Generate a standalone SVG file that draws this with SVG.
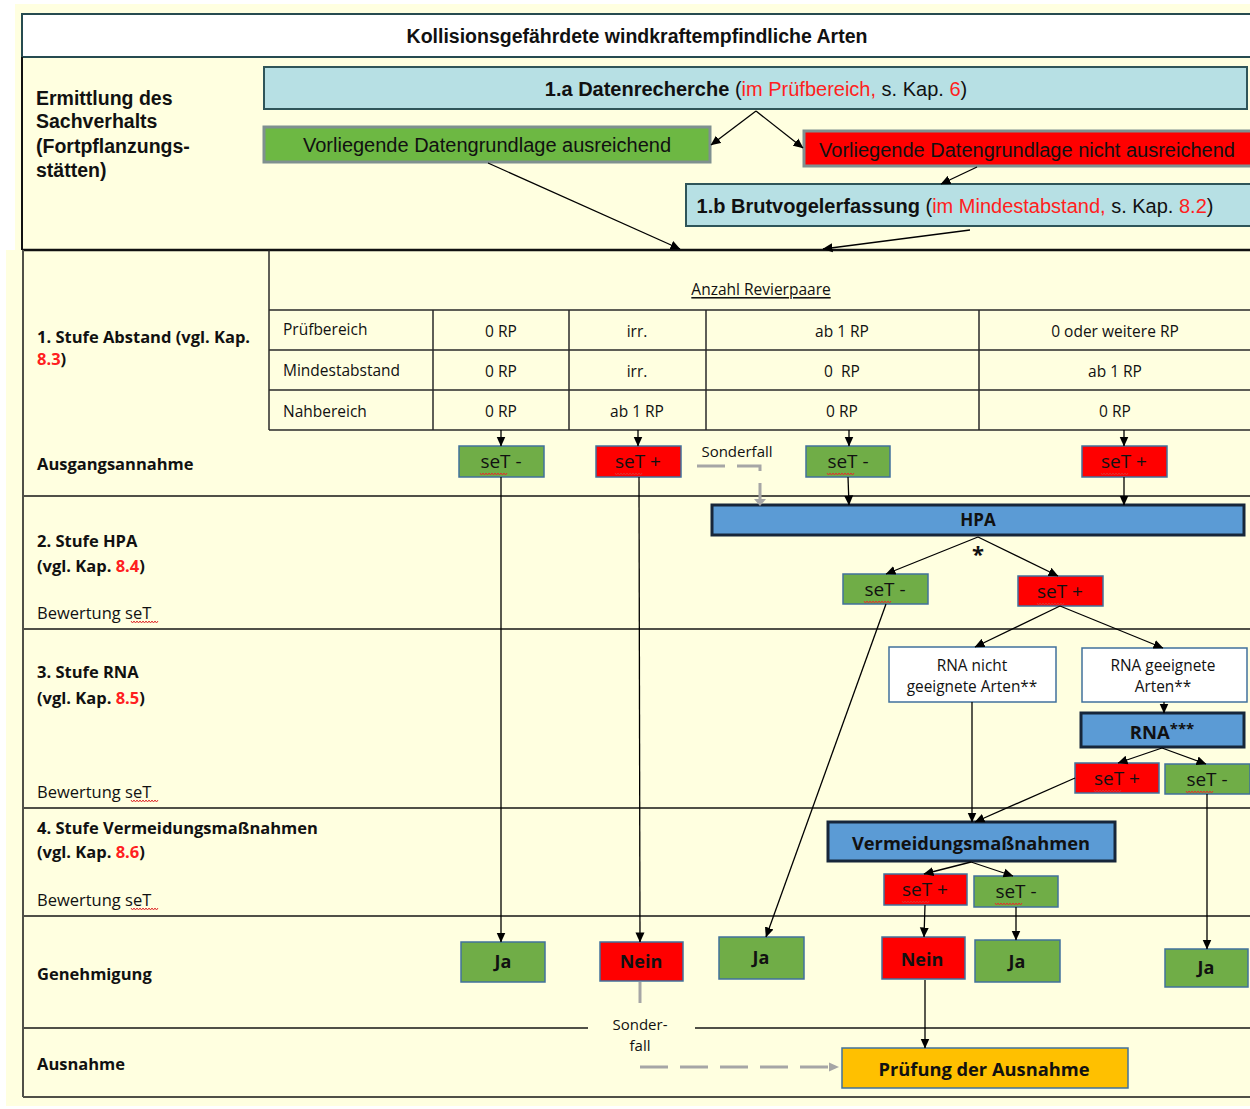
<svg xmlns="http://www.w3.org/2000/svg" width="1250" height="1109" viewBox="0 0 1250 1109">
  <defs>
    <marker id="ah" viewBox="0 0 10 10" markerUnits="userSpaceOnUse" markerWidth="10" markerHeight="10" refX="9.5" refY="5" orient="auto">
      <path d="M0,0.5 L10,5 L0,9.5 z" fill="#000"/>
    </marker>
    <marker id="ahg" viewBox="0 0 10 10" markerUnits="userSpaceOnUse" markerWidth="10" markerHeight="10" refX="9" refY="5" orient="auto">
      <path d="M0,0.5 L10,5 L0,9.5 z" fill="#A6A6A6"/>
    </marker>
    <!-- red spelling squiggle under "seT" -->
    <path id="sq" d="M0,0 l1.5,2 l1.5,-2 l1.5,2 l1.5,-2 l1.5,2 l1.5,-2 l1.5,2 l1.5,-2 l1.5,2 l1.5,-2 l1.5,2 l1.5,-2 l1.5,2 l1.5,-2 l1.5,2 l1.5,-2 l1.5,2 l1.5,-2" fill="none" stroke="#E03030" stroke-width="1"/>
  </defs>
  <style>
    .ar{font-family:"Liberation Sans",Arial,sans-serif}
    .ca{font-family:"Open Sans",Lato,sans-serif}
    .b{font-weight:bold}
    .red{fill:#FF2020}
    .mid{text-anchor:middle}
    text{dominant-baseline:central;fill:#111}
    .topbox{fill:#B7E0E4;stroke:#2F5559;stroke-width:2}
    .gbox{fill:#6DB843;stroke:#7F9090;stroke-width:3}
    .rbox{fill:#FF0000;stroke:#7F9090;stroke-width:3}
    .g{fill:#70AD47;stroke:#41719C;stroke-width:1.5}
    .r{fill:#FF0000;stroke:#41719C;stroke-width:1.5}
    .w{fill:#FFFFFF;stroke:#41719C;stroke-width:1.5}
    .blue{fill:#5B9BD5;stroke:#17263A;stroke-width:3}
    .gold{fill:#FFC000;stroke:#41719C;stroke-width:1.5}
    .sep{stroke:#505048;stroke-width:2;fill:none}
    .tl{stroke:#2a2a2a;stroke-width:1.5;fill:none}
    .lbl{font-size:16.5px}
    .cell{font-size:15.5px}
    .set{font-size:19px}
    .yn{font-size:18px;font-weight:bold}
    .cn{stroke:#000;stroke-width:1.3;fill:none;marker-end:url(#ah)}
    .dash{stroke:#A6A6A6;stroke-width:3;fill:none;stroke-dasharray:28 12}
  </style>

  <!-- page background -->
  <rect x="0" y="0" width="1250" height="1109" fill="#FFFFFF"/>
  <rect x="15" y="4" width="1235" height="248" fill="#FFFFE0"/>
  <rect x="6" y="250" width="1244" height="856" fill="#FFFFE0"/>

  <!-- frame and grid -->
  <g id="grid">
    <rect x="22" y="14" width="1240" height="43" fill="#FFFFFF" stroke="#264B50" stroke-width="2"/>
    <line x1="22" y1="57" x2="22" y2="250" stroke="#111" stroke-width="2"/>
    <line x1="22" y1="250" x2="1250" y2="250" stroke="#111" stroke-width="2.5"/>
    <line x1="23" y1="250" x2="23" y2="1097" class="sep"/>
    <line x1="23" y1="496" x2="1250" y2="496" class="sep"/>
    <line x1="23" y1="629" x2="1250" y2="629" class="sep"/>
    <line x1="23" y1="808" x2="1250" y2="808" class="sep"/>
    <line x1="23" y1="916" x2="1250" y2="916" class="sep"/>
    <line x1="23" y1="1028" x2="588" y2="1028" class="sep"/>
    <line x1="695" y1="1028" x2="1250" y2="1028" class="sep"/>
    <line x1="23" y1="1097" x2="1250" y2="1097" class="sep"/>
    <!-- distance table -->
    <line x1="269" y1="250" x2="269" y2="430" class="tl"/>
    <line x1="269" y1="310" x2="1250" y2="310" class="tl"/>
    <line x1="269" y1="350" x2="1250" y2="350" class="tl"/>
    <line x1="269" y1="390" x2="1250" y2="390" class="tl"/>
    <line x1="269" y1="430" x2="1250" y2="430" class="tl"/>
    <line x1="433" y1="310" x2="433" y2="430" class="tl"/>
    <line x1="569" y1="310" x2="569" y2="430" class="tl"/>
    <line x1="706" y1="310" x2="706" y2="430" class="tl"/>
    <line x1="979" y1="310" x2="979" y2="430" class="tl"/>
  </g>

  <!-- headings and row labels -->
  <g id="labels">
    <text x="637" y="36" class="ar b mid" font-size="19.5">Kollisionsgefährdete windkraftempfindliche Arten</text>
    <text class="ar b" font-size="19.5"><tspan x="36" y="98">Ermittlung des</tspan><tspan x="36" y="121">Sachverhalts</tspan><tspan x="36" y="146">(Fortpflanzungs-</tspan><tspan x="36" y="170">stätten)</tspan></text>
    <text class="ca b lbl"><tspan x="37" y="336">1. Stufe Abstand (vgl. Kap.</tspan><tspan x="37" y="358" class="red">8.3</tspan><tspan>)</tspan></text>
    <text x="37" y="463" class="ca b lbl">Ausgangsannahme</text>
    <text class="ca b lbl"><tspan x="37" y="540">2. Stufe HPA</tspan><tspan x="37" y="565">(vgl. Kap. </tspan><tspan class="red">8.4</tspan><tspan>)</tspan></text>
    <text x="37" y="612" class="ca lbl">Bewertung seT</text>
    <use href="#sq" x="131" y="621"/>
    <text class="ca b lbl"><tspan x="37" y="671">3. Stufe RNA</tspan><tspan x="37" y="697">(vgl. Kap. </tspan><tspan class="red">8.5</tspan><tspan>)</tspan></text>
    <text x="37" y="791" class="ca lbl">Bewertung seT</text>
    <use href="#sq" x="131" y="800"/>
    <text class="ca b lbl"><tspan x="37" y="827">4. Stufe Vermeidungsmaßnahmen</tspan><tspan x="37" y="851">(vgl. Kap. </tspan><tspan class="red">8.6</tspan><tspan>)</tspan></text>
    <text x="37" y="899" class="ca lbl">Bewertung seT</text>
    <use href="#sq" x="131" y="908"/>
    <text x="37" y="973" class="ca b lbl">Genehmigung</text>
    <text x="37" y="1063" class="ca b lbl">Ausnahme</text>

    <text x="761" y="289" class="ca cell mid" text-decoration="underline">Anzahl Revierpaare</text>
    <text x="283" y="329" class="ca cell">Prüfbereich</text>
    <text x="283" y="370" class="ca cell">Mindestabstand</text>
    <text x="283" y="411" class="ca cell">Nahbereich</text>
    <text x="501" y="331" class="ca cell mid">0 RP</text>
    <text x="501" y="371" class="ca cell mid">0 RP</text>
    <text x="501" y="411" class="ca cell mid">0 RP</text>
    <text x="637" y="331" class="ca cell mid">irr.</text>
    <text x="637" y="371" class="ca cell mid">irr.</text>
    <text x="637" y="411" class="ca cell mid">ab 1 RP</text>
    <text x="842" y="331" class="ca cell mid">ab 1 RP</text>
    <text x="842" y="371" class="ca cell mid" xml:space="preserve">0  RP</text>
    <text x="842" y="411" class="ca cell mid">0 RP</text>
    <text x="1115" y="331" class="ca cell mid">0 oder weitere RP</text>
    <text x="1115" y="371" class="ca cell mid">ab 1 RP</text>
    <text x="1115" y="411" class="ca cell mid">0 RP</text>

    <text x="737" y="451" class="ca mid" font-size="15" fill="#404040">Sonderfall</text>
    <text x="640" y="1024" class="ca mid" font-size="15" fill="#303030">Sonder-</text>
    <text x="640" y="1045" class="ca mid" font-size="15" fill="#303030">fall</text>
  </g>

  <!-- data collection -->
  <g id="n-datenrecherche">
    <rect x="264" y="67" width="983" height="42" class="topbox"/>
    <text x="756" y="89" class="ar mid" font-size="20"><tspan class="b">1.a Datenrecherche</tspan> (<tspan class="red">im Prüfbereich,</tspan> s. Kap. <tspan class="red">6</tspan>)</text>
  </g>
  <g id="n-ausreichend">
    <rect x="264" y="127" width="446" height="35" class="gbox"/>
    <text x="487" y="145" class="ar mid" font-size="20">Vorliegende Datengrundlage ausreichend</text>
  </g>
  <g id="n-nicht-ausreichend">
    <rect x="804" y="131" width="450" height="35" class="rbox"/>
    <text x="1027" y="150" class="ar mid" font-size="20">Vorliegende Datengrundlage nicht ausreichend</text>
  </g>
  <g id="n-brutvogel">
    <rect x="686" y="184" width="570" height="42" class="topbox"/>
    <text x="955" y="206" class="ar mid" font-size="20"><tspan class="b">1.b Brutvogelerfassung</tspan> (<tspan class="red">im Mindestabstand,</tspan> s. Kap. <tspan class="red">8.2</tspan>)</text>
  </g>

  <!-- starting assumption -->
  <g id="n-a1"><rect x="459" y="446" width="85" height="31" class="g"/><text x="501" y="461" class="ca set mid">seT -</text><use href="#sq" x="480" y="473"/></g>
  <g id="n-a2"><rect x="596" y="446" width="85" height="31" class="r"/><text x="638" y="461" class="ca set mid">seT +</text><use href="#sq" x="615" y="473"/></g>
  <g id="n-a3"><rect x="806" y="446" width="84" height="31" class="g"/><text x="848" y="461" class="ca set mid">seT -</text><use href="#sq" x="827" y="473"/></g>
  <g id="n-a4"><rect x="1082" y="446" width="85" height="31" class="r"/><text x="1124" y="461" class="ca set mid">seT +</text><use href="#sq" x="1101" y="473"/></g>

  <!-- HPA -->
  <g id="n-hpa"><rect x="712" y="505" width="532" height="30" class="blue"/><text x="978" y="519" class="ca b mid" font-size="17">HPA</text></g>
  <text x="978" y="553" class="ca b mid" font-size="22">*</text>
  <g id="n-h1"><rect x="843" y="574" width="85" height="30" class="g"/><text x="885" y="589" class="ca set mid">seT -</text><use href="#sq" x="864" y="601"/></g>
  <g id="n-h2"><rect x="1018" y="576" width="85" height="30" class="r"/><text x="1060" y="591" class="ca set mid">seT +</text><use href="#sq" x="1037" y="603"/></g>

  <!-- RNA -->
  <g id="n-rna-nicht"><rect x="889" y="647" width="167" height="55" class="w"/><text class="ca mid" font-size="15.4"><tspan x="972" y="665">RNA nicht</tspan><tspan x="972" y="686">geeignete Arten**</tspan></text></g>
  <g id="n-rna-geeignet"><rect x="1082" y="648" width="165" height="54" class="w"/><text class="ca mid" font-size="15.4"><tspan x="1163" y="665">RNA geeignete</tspan><tspan x="1163" y="686">Arten**</tspan></text></g>
  <g id="n-rna"><rect x="1081" y="713" width="163" height="34" class="blue"/><text x="1162" y="731" class="ca b mid" font-size="18.5">RNA<tspan font-size="15" dy="-3">***</tspan></text></g>
  <g id="n-r1"><rect x="1075" y="763" width="84" height="30" class="r"/><text x="1117" y="778" class="ca set mid">seT +</text><use href="#sq" x="1094" y="790"/></g>
  <g id="n-r2"><rect x="1165" y="764" width="85" height="30" class="g"/><text x="1207" y="779" class="ca set mid">seT -</text><use href="#sq" x="1186" y="791"/></g>

  <!-- avoidance measures -->
  <g id="n-vm"><rect x="828" y="822" width="287" height="39" class="blue"/><text x="971" y="842" class="ca b mid" font-size="18.3">Vermeidungsmaßnahmen</text></g>
  <g id="n-v1"><rect x="884" y="874" width="83" height="31" class="r"/><text x="925" y="889" class="ca set mid">seT +</text><use href="#sq" x="902" y="901"/></g>
  <g id="n-v2"><rect x="974" y="876" width="84" height="31" class="g"/><text x="1016" y="891" class="ca set mid">seT -</text><use href="#sq" x="995" y="903"/></g>

  <!-- permit decisions -->
  <g id="n-ja1"><rect x="461" y="942" width="84" height="40" class="g"/><text x="503" y="961" class="ca yn mid">Ja</text></g>
  <g id="n-nein1"><rect x="600" y="942" width="83" height="39" class="r"/><text x="641" y="961" class="ca yn mid">Nein</text></g>
  <g id="n-ja2"><rect x="719" y="937" width="85" height="42" class="g"/><text x="761" y="957" class="ca yn mid">Ja</text></g>
  <g id="n-nein2"><rect x="882" y="937" width="83" height="42" class="r"/><text x="922" y="959" class="ca yn mid">Nein</text></g>
  <g id="n-ja3"><rect x="975" y="940" width="85" height="42" class="g"/><text x="1017" y="961" class="ca yn mid">Ja</text></g>
  <g id="n-ja4"><rect x="1165" y="949" width="83" height="38" class="g"/><text x="1206" y="967" class="ca yn mid">Ja</text></g>

  <!-- exception -->
  <g id="n-ausnahme"><rect x="842" y="1048" width="286" height="40" class="gold"/><text x="984" y="1068" class="ca b mid" font-size="18.3">Prüfung der Ausnahme</text></g>

  <!-- connectors -->
  <g id="connectors">
    <line x1="756" y1="111" x2="711" y2="145" class="cn"/>
    <line x1="756" y1="111" x2="803" y2="148" class="cn"/>
    <line x1="977" y1="167" x2="941" y2="184" class="cn"/>
    <line x1="488" y1="163" x2="680" y2="249" class="cn"/>
    <line x1="970" y1="230" x2="823" y2="249" class="cn"/>

    <line x1="501" y1="430" x2="501" y2="446" class="cn"/>
    <line x1="638" y1="430" x2="638" y2="446" class="cn"/>
    <line x1="849" y1="430" x2="849" y2="446" class="cn"/>
    <line x1="1124" y1="430" x2="1124" y2="446" class="cn"/>

    <line x1="501" y1="477" x2="501" y2="942" class="cn"/>
    <line x1="639" y1="477" x2="640" y2="942" class="cn"/>
    <line x1="848" y1="477" x2="849" y2="505" class="cn"/>
    <line x1="1124" y1="477" x2="1124" y2="505" class="cn"/>

    <line x1="978" y1="537" x2="886" y2="574" class="cn"/>
    <line x1="978" y1="537" x2="1058" y2="576" class="cn"/>
    <line x1="1060" y1="606" x2="975" y2="647" class="cn"/>
    <line x1="1060" y1="606" x2="1163" y2="648" class="cn"/>
    <line x1="1164" y1="702" x2="1164" y2="713" class="cn"/>
    <line x1="1162" y1="748" x2="1118" y2="763" class="cn"/>
    <line x1="1162" y1="748" x2="1206" y2="764" class="cn"/>

    <line x1="972" y1="702" x2="972" y2="822" class="cn"/>
    <line x1="1075" y1="778" x2="975" y2="822" class="cn"/>
    <line x1="886" y1="604" x2="766" y2="937" class="cn"/>
    <line x1="1207" y1="794" x2="1207" y2="949" class="cn"/>

    <line x1="971" y1="862" x2="924" y2="874" class="cn"/>
    <line x1="971" y1="862" x2="1013" y2="876" class="cn"/>
    <line x1="925" y1="905" x2="924" y2="937" class="cn"/>
    <line x1="1016" y1="907" x2="1016" y2="940" class="cn"/>
    <line x1="925" y1="980" x2="925" y2="1048" class="cn"/>

    <!-- special-case paths -->
    <path d="M697,466 H760 V504" class="dash" stroke-dasharray="26 12 26 14 40"/>
    <path d="M754,499 L760,506 L766,499" fill="#A6A6A6"/>
    <line x1="640" y1="982" x2="640" y2="1003" stroke="#A6A6A6" stroke-width="3"/>
    <line x1="640" y1="1067" x2="838" y2="1067" class="dash" marker-end="url(#ahg)"/>
  </g>
</svg>
